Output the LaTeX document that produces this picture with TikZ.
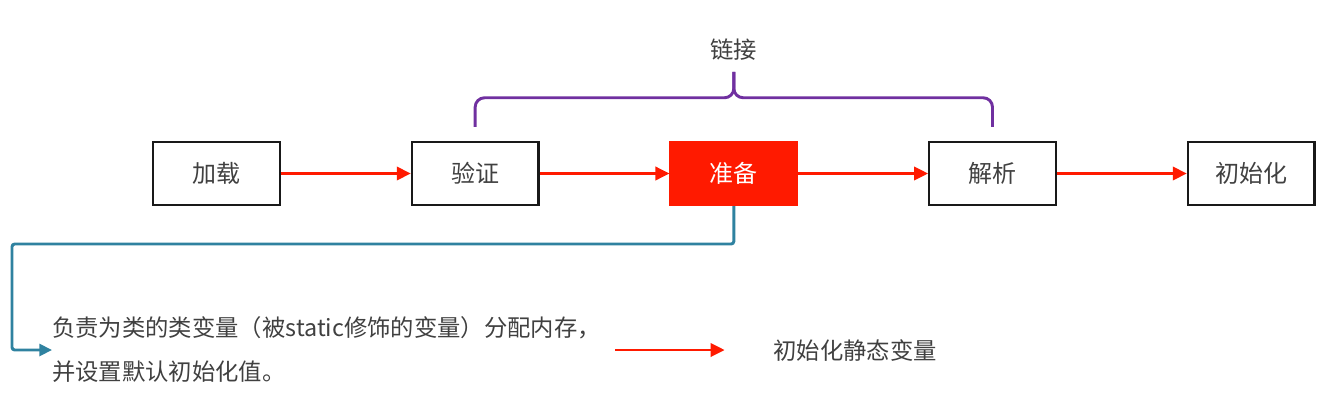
\documentclass[tikz,border=0pt]{standalone}
\usepackage{fontspec}
\setmainfont{Noto Sans CJK SC}
\usepackage{xcolor}
\usetikzlibrary{positioning,calc,arrows.meta}
\definecolor{flowred}{HTML}{FF1A00}
\definecolor{linkpurple}{HTML}{7030A0}
\definecolor{prepblue}{HTML}{2F82A0}
\definecolor{textgray}{HTML}{404040}

\begin{document}
\begin{tikzpicture}[x=0.75pt,y=-0.75pt,
	stage/.style={draw=black!90,line width=1.6pt,minimum width=95pt,minimum height=47.5pt,
		text=textgray,font=\fontsize{18}{20}\selectfont},
	current/.style={stage,draw=flowred,fill=flowred,text=white},
	flow/.style={draw=flowred,line width=2pt,-{Triangle[length=10.5pt,width=10pt]}},
	brace/.style={draw=linkpurple,line width=2.2pt,rounded corners=7pt},
	note/.style={text=textgray,font=\fontsize{17.5}{33}\selectfont}]
\useasboundingbox (0,0) rectangle (1342,419);
% stages
\node[stage] (load) at (216.5,173.5) {加载};
\node[stage,right=97.4pt of load] (check) {验证};
\node[current,right=97.4pt of check] (prep) {准备};
\node[stage,right=97.4pt of prep] (parse) {解析};
\node[stage,right=97.4pt of parse] (init) {初始化};
\draw[flow] (load) -- (check);
\draw[flow] (check) -- (prep);
\draw[flow] (prep) -- (parse);
\draw[flow] (parse) -- (init);
% link
\draw[brace] ($(check.north)+(0,-14)$) |- ($(prep.north)+(0,-43)$) -- ($(prep.north)+(0,-69)$);
\draw[brace] ($(parse.north)+(0,-14)$) |- ($(prep.north)+(0,-43)$) -- ($(prep.north)+(0,-69)$);
\node[note] (linkl) at ($(prep.north)+(0,-91)$) {链接};
% prepare
\node[note,anchor=west,align=left,inner sep=0pt] (desc) at (52,350)
	{负责为类的类变量（被static修饰的变量）分配内存，\\并设置默认初始化值。};
\node[note] (result) at (855,351) {初始化静态变量};
\coordinate (bend) at (12,244);
\draw[prepblue,line width=2.2pt,rounded corners=2pt,-{Triangle[length=9.5pt,width=9pt]}]
	(prep.south) |- (bend) |- (desc.west);
\draw[flow,shorten <=10.5pt,shorten >=33pt] (desc.east) -- (desc.east -| result.west);
\end{tikzpicture}
\end{document}
